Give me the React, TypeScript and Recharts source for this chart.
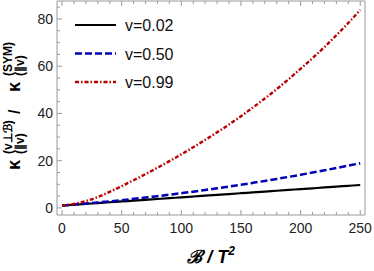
import React from 'react';
import { LineChart, Line, XAxis, YAxis, Legend, Label } from 'recharts';

// B / T^2 sample points
const bField = [0, 10, 20, 30, 40, 50, 60, 70, 80, 90, 100, 110, 120, 130, 140, 150, 160, 170, 180, 190, 200, 210, 220, 230, 240, 250];

// kappa ratio for each velocity
const v002 = [1.0, 1.35, 1.7, 2.04, 2.39, 2.74, 3.09, 3.44, 3.78, 4.13, 4.48, 4.83, 5.18, 5.52, 5.87, 6.22, 6.57, 6.92, 7.26, 7.61, 7.96, 8.31, 8.66, 9.0, 9.35, 9.7];
const v050 = [1.0, 1.41, 1.84, 2.3, 2.78, 3.29, 3.83, 4.39, 4.98, 5.59, 6.23, 6.89, 7.59, 8.3, 9.04, 9.81, 10.61, 11.43, 12.27, 13.14, 14.04, 14.96, 15.91, 16.88, 17.89, 18.9];
const v099 = [1.0, 1.7, 2.9, 4.6, 6.8, 9.2, 11.7, 14.3, 17.0, 19.8, 22.7, 25.7, 28.8, 32.0, 35.3, 38.8, 42.5, 46.3, 50.3, 54.5, 58.9, 63.4, 68.1, 73.1, 78.3, 83.8];

const xMajor = [0, 50, 100, 150, 200, 250];
const xTicks = [0, 10, 20, 30, 40, 50, 60, 70, 80, 90, 100, 110, 120, 130, 140, 150, 160, 170, 180, 190, 200, 210, 220, 230, 240, 250];
const yMajor = [0, 20, 40, 60, 80];
const yTicks = [0, 5, 10, 15, 20, 25, 30, 35, 40, 45, 50, 55, 60, 65, 70, 75, 80, 85];

const series = [
  { key: 'v002', name: 'v=0.02', color: '#000000', dash: undefined as string | undefined, width: 2.2 },
  { key: 'v050', name: 'v=0.50', color: '#0000b4', dash: '7 3', width: 2.5 },
  { key: 'v099', name: 'v=0.99', color: '#bb0000', dash: '4 2 1.5 2', width: 2.4 },
];

const data = bField.map((b, i) => ({ b, v002: v002[i], v050: v050[i], v099: v099[i] }));

const FONT = '"Liberation Sans", Arial, sans-serif';
const FRAME = '#9a9a9a';

const XTick = (top: boolean) => (props: any) => {
  const { x, y, payload } = props;
  const major = xMajor.includes(payload.value);
  const len = major ? 5 : 3;
  return (
    <g>
      <line x1={x} x2={x} y1={y} y2={top ? y + len : y - len} stroke={FRAME} strokeWidth={1} />
      {!top && major && (
        <text x={x} y={y + 18} textAnchor="middle" fontSize={14} fontFamily={FONT} fill="#222">
          {payload.value}
        </text>
      )}
    </g>
  );
};

const YTick = (right: boolean) => (props: any) => {
  const { x, y, payload } = props;
  const major = yMajor.includes(payload.value);
  const len = major ? 5 : 3;
  return (
    <g>
      <line x1={x} x2={right ? x - len : x + len} y1={y} y2={y} stroke={FRAME} strokeWidth={1} />
      {!right && major && (
        <text x={x - 4} y={y + 5} textAnchor="end" fontSize={14} fontFamily={FONT} fill="#222">
          {payload.value}
        </text>
      )}
    </g>
  );
};

const YTitle = (props: any) => {
  const vb = props.viewBox;
  const tx = vb.x - 36;
  const ty = vb.y + vb.height / 2 + 62;
  const common = { fontFamily: FONT, fontWeight: 700, fill: '#000' };
  return (
    <g transform={`translate(${tx}, ${ty}) rotate(-90)`}>
      <text x={0} y={0} fontSize={18} {...common}>κ</text>
      <text x={16} y={-8} fontSize={12} {...common}>(v⊥ℬ)</text>
      <text x={16} y={4} fontSize={12} {...common}>(∥v)</text>
      <text x={56} y={0} fontSize={16} {...common}>/</text>
      <text x={78} y={0} fontSize={18} {...common}>κ</text>
      <text x={94} y={-8} fontSize={12} {...common}>(SYM)</text>
      <text x={94} y={4} fontSize={12} {...common}>(∥v)</text>
    </g>
  );
};

const XTitle = (props: any) => {
  const vb = props.viewBox;
  return (
    <text x={vb.x + vb.width / 2} y={vb.y + 48} textAnchor="middle" fontFamily={FONT} fontWeight={700} fontStyle="italic" fontSize={18} fill="#000">
      ℬ / T<tspan fontSize={12} dy={-8}>2</tspan>
    </text>
  );
};

const LegendBox = () => (
  <svg width={120} height={90} style={{ display: 'block' }}>
    {series.map((s, i) => (
      <g key={s.key}>
        <line x1={5} x2={46} y1={15 + i * 28.5} y2={15 + i * 28.5} stroke={s.color} strokeWidth={s.width} strokeDasharray={s.dash} />
        <text x={55} y={15 + i * 28.5 + 6} fontSize={16} fontFamily={FONT} fill="#111">
          {s.name}
        </text>
      </g>
    ))}
  </svg>
);

export default function App() {
  return (
    <div style={{ position: 'absolute', left: 0, top: 0, width: 374, height: 271, background: '#fff' }}>
      <LineChart width={374} height={271} data={data} margin={{ top: 0, right: 8, bottom: 55, left: 56 }}>
        <XAxis dataKey="b" type="number" domain={[-4.2, 254]} ticks={xTicks} interval={0} height={1} tickSize={0} tickMargin={0} tickLine={false} axisLine={{ stroke: FRAME }} tick={XTick(false)}>
          <Label content={XTitle} />
        </XAxis>
        <XAxis xAxisId="top" orientation="top" dataKey="b" type="number" domain={[-4.2, 254]} ticks={xTicks} interval={0} height={1} tickSize={0} tickMargin={0} tickLine={false} axisLine={{ stroke: FRAME }} tick={XTick(true)} />
        <YAxis type="number" domain={[-3, 87.6]} ticks={yTicks} interval={0} width={1} tickSize={0} tickMargin={0} tickLine={false} axisLine={{ stroke: FRAME }} tick={YTick(false)}>
          <Label content={YTitle} />
        </YAxis>
        <YAxis yAxisId="right" orientation="right" type="number" domain={[-3, 87.6]} ticks={yTicks} interval={0} width={1} tickSize={0} tickMargin={0} tickLine={false} axisLine={{ stroke: FRAME }} tick={YTick(true)} />
        <Legend layout="vertical" align="center" verticalAlign="middle" content={LegendBox} wrapperStyle={{ left: 70, top: 10, width: 120, height: 90 }} />
        {series.map((s) => (
          <Line
            key={s.key}
            dataKey={s.key}
            name={s.name}
            type="monotone"
            stroke={s.color}
            strokeWidth={s.width}
            strokeDasharray={s.dash}
            dot={false}
            isAnimationActive={false}
          />
        ))}
      </LineChart>
    </div>
  );
}
